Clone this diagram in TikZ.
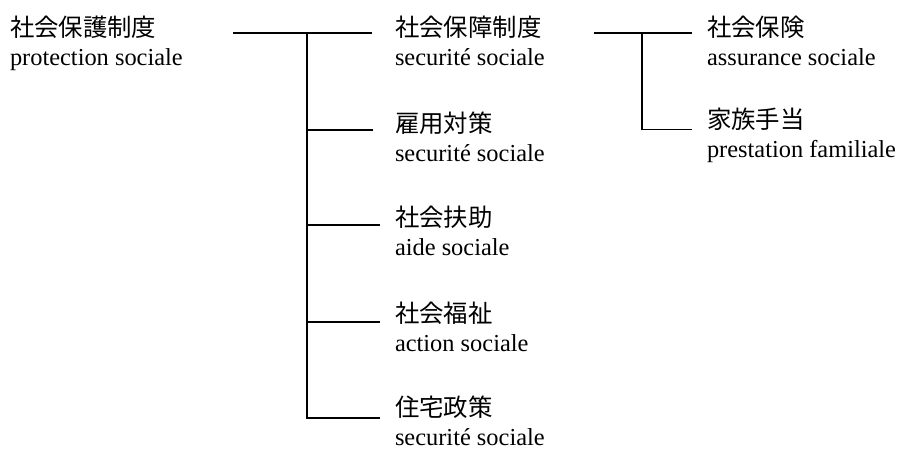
\documentclass[tikz,border=0pt]{standalone}
\usepackage{fontspec}
\setmainfont{Liberation Serif}
\newfontfamily\cjk{Noto Sans CJK JP}
\begin{document}
\begin{tikzpicture}[x=1pt,y=-1pt,
  lbl/.style={anchor=base west,inner sep=0pt,outer sep=0pt,align=left,
    font=\fontsize{24.4}{29}\selectfont},
  conn/.style={line width=1.8pt,line cap=butt,line join=miter}]
\useasboundingbox (0,0) rectangle (900,451);
% labels (anchored at the baseline of the last line)
\node[lbl] (root) at (10,65) {{\cjk 社会保護制度}\\protection sociale};
\node[lbl] (n1) at (395,65) {{\cjk 社会保障制度}\\securité sociale};
\node[lbl] (n2) at (395,161) {{\cjk 雇用対策}\\securité sociale};
\node[lbl] (n3) at (395,255) {{\cjk 社会扶助}\\aide sociale};
\node[lbl] (n4) at (395,351) {{\cjk 社会福祉}\\action sociale};
\node[lbl] (n5) at (395,445) {{\cjk 住宅政策}\\securité sociale};
\node[lbl] (n6) at (707,65) {{\cjk 社会保険}\\assurance sociale};
\node[lbl] (n7) at (707,157) {{\cjk 家族手当}\\prestation familiale};
% junctions
\coordinate (s0) at (233,33.3);
\coordinate (t1) at (307,33.3);
\coordinate (t2) at (307,130);
\coordinate (t3) at (307,225);
\coordinate (t4) at (307,322);
\coordinate (t5) at (307,418);
\coordinate (s1) at (594,33.3);
\coordinate (t6) at (642,33.3);
\coordinate (t7) at (642,129.5);
% connectors
\draw[conn] (s0) -- (t1);
\draw[conn] ([yshift=-0.9pt]t1) -- (t5) -- ([xshift=-15pt]t5 -| n5.west);
\draw[conn] (t1) -- ([xshift=-23pt]t1 -| n1.west);
\draw[conn] (t2) -- ([xshift=-22pt]t2 -| n2.west);
\draw[conn] (t3) -- ([xshift=-15pt]t3 -| n3.west);
\draw[conn] (t4) -- ([xshift=-15pt]t4 -| n4.west);
\draw[conn] (s1) -- ([xshift=-15pt]t6 -| n6.west);
\draw[conn] ([yshift=-0.9pt]t6) -- (t7) -- ([xshift=-15pt]t7 -| n7.west);
\end{tikzpicture}
\end{document}
